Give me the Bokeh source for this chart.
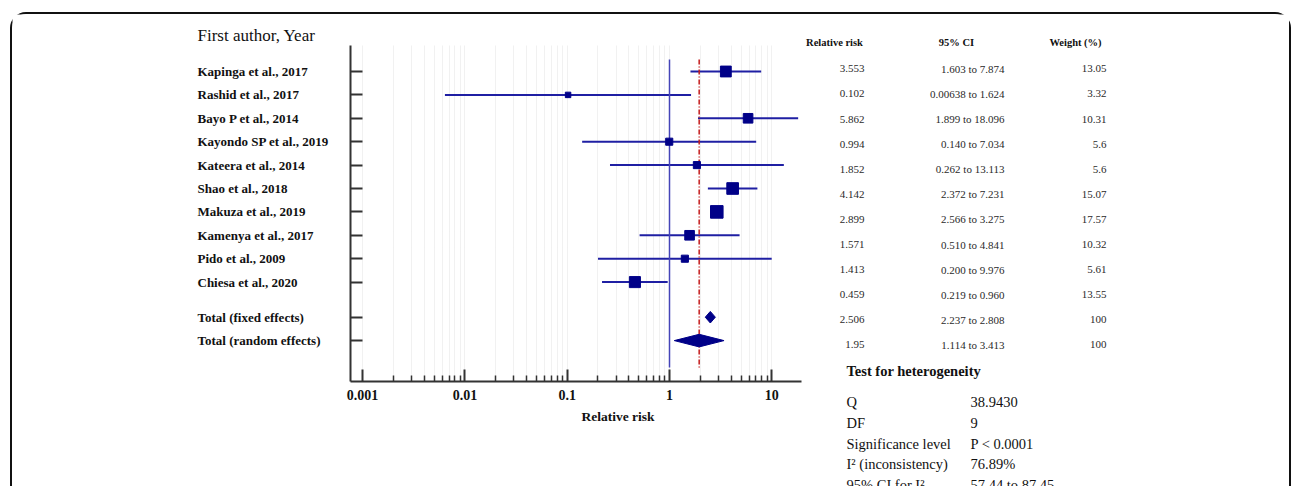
import math
from bokeh.plotting import figure
from bokeh.layouts import row
from bokeh.models import (Range1d, FixedTicker, CustomJSTickFormatter, ColumnDataSource, Title)
from bokeh.embed import file_html
from bokeh.resources import INLINE
from bokeh.core.properties import value

# ---------------- data ----------------
studies = ["Kapinga  et al., 2017", "Rashid et al., 2017", "Bayo P et al., 2014",
           "Kayondo SP et al., 2019", "Kateera et al., 2014", "Shao et al., 2018",
           "Makuza et al., 2019", "Kamenya et al., 2017", "Pido et al., 2009",
           "Chiesa et al., 2020"]
rr_txt = ["3.553", "0.102", "5.862", "0.994", "1.852", "4.142", "2.899", "1.571", "1.413", "0.459"]
lo_txt = ["1.603", "0.00638", "1.899", "0.140", "0.262", "2.372", "2.566", "0.510", "0.200", "0.219"]
hi_txt = ["7.874", "1.624", "18.096", "7.034", "13.113", "7.231", "3.275", "4.841", "9.976", "0.960"]
w_txt = ["13.05", "3.32", "10.31", "5.6", "5.6", "15.07", "17.57", "10.32", "5.61", "13.55"]

pooled_names = ["Total (fixed effects)", "Total (random effects)"]
pooled_rr_txt = ["2.506", "1.95"]
pooled_lo_txt = ["2.237", "1.114"]
pooled_hi_txt = ["2.808", "3.413"]
pooled_w_txt = ["100", "100"]

table_headers = ["Relative risk", "95% CI", "Weight (%)"]

het_title = "Test for heterogeneity"
het_labels = ["Q", "DF", "Significance level", "I\u00b2 (inconsistency)", "95% CI for I\u00b2"]
het_values = ["38.9430", "9", "P < 0.0001", "76.89%", "57.44 to 87.45"]

x_ticks = [0.001, 0.01, 0.1, 1, 10]
null_value = 1.0

# ---------------- layout helpers (page pixels) ----------------
X0, Y0 = 12, 14            # content origin inside the rounded frame
HC = 472                   # content height
DEC = 102.3                # px per decade
X1 = 669.0                 # page x of value 1
ROW_PX = 23.4
ROW0 = 71.0                # page y of first row


def row_at(page_y):
    return (page_y - ROW0) / ROW_PX


FL, FR, FT, FB = 350, 801, 45, 381   # plot frame (page coords)
LEFT_W = 340 - X0
MAIN_X = 340
MAIN_W = 802 - MAIN_X
RIGHT_X = 802
RIGHT_W = 1289 - RIGHT_X

x_start = 10 ** ((FL - X1) / DEC)
x_end = 10 ** ((FR - X1) / DEC)

study_rows = list(range(len(studies)))
pooled_rows = [10.5, 11.5]

serif = "Liberation Serif"
NAVY = "#000088"
LINE_BLUE = "#1f1fa3"
TXT = "#111111"
GRID = "#e2e2e2"


def blank_fig(w, xr, yr):
    f = figure(width=w, height=HC, x_range=xr, y_range=yr, output_backend="svg",
               toolbar_location=None, x_axis_location=None, y_axis_location=None,
               min_border=0, min_border_left=0, min_border_right=0,
               min_border_top=0, min_border_bottom=0)
    f.outline_line_color = None
    f.xgrid.visible = False
    f.ygrid.visible = False
    f.frame_align = False
    return f


# ---------------- main forest plot ----------------
p = figure(width=MAIN_W, height=HC, x_axis_type="log",
           x_range=Range1d(x_start, x_end),
           y_range=Range1d(row_at(FB), row_at(FT)),
           output_backend="svg", toolbar_location=None,
           min_border_left=FL - MAIN_X, min_border_right=MAIN_X + MAIN_W - FR,
           min_border_top=FT - Y0, min_border_bottom=Y0 + HC - FB)
p.outline_line_color = None
p.frame_align = False

minor = [m * 10 ** e for e in range(-3, 2) for m in range(2, 10)]
minor = [v for v in minor if x_start < v < x_end]

xa = p.xaxis[0]
xa.ticker = FixedTicker(ticks=x_ticks, minor_ticks=minor)
xa.formatter = CustomJSTickFormatter(code="return String(tick);")
xa.axis_line_width = 2
xa.axis_line_color = "#333333"
xa.major_tick_in = 12
xa.major_tick_out = 0
xa.minor_tick_in = 6
xa.minor_tick_out = 0
xa.major_tick_line_width = 2
xa.major_tick_line_color = "#333333"
xa.minor_tick_line_width = 1.5
xa.minor_tick_line_color = "#333333"
xa.major_label_text_font = serif
xa.major_label_text_font_style = "bold"
xa.major_label_text_font_size = "14px"
xa.major_label_text_color = TXT
xa.major_label_standoff = 8

ya = p.yaxis[0]
ya.ticker = FixedTicker(ticks=study_rows + pooled_rows)
ya.axis_line_width = 2
ya.axis_line_color = "#333333"
ya.major_tick_in = 12
ya.major_tick_out = 0
ya.major_tick_line_width = 2
ya.major_tick_line_color = "#333333"
ya.minor_tick_line_color = None
ya.major_label_text_font_size = "0px"
ya.major_label_standoff = 0
ya.major_label_overrides = {t: "" for t in study_rows + pooled_rows}

p.ygrid.grid_line_color = None
p.xgrid.ticker = FixedTicker(ticks=x_ticks, minor_ticks=minor)
p.xgrid.grid_line_color = GRID
p.xgrid.grid_line_dash = "1 1"
p.xgrid.grid_line_width = 1
p.xgrid.minor_grid_line_color = GRID
p.xgrid.minor_grid_line_dash = "1 1"
p.xgrid.minor_grid_line_width = 1

rr = [float(v) for v in rr_txt]
lo = [float(v) for v in lo_txt]
hi = [float(v) for v in hi_txt]
wt = [float(v) for v in w_txt]
prr = [float(v) for v in pooled_rr_txt]
plo = [float(v) for v in pooled_lo_txt]
phi = [float(v) for v in pooled_hi_txt]

src = ColumnDataSource(dict(rr=rr, lo=lo, hi=hi, y=study_rows,
                            size=[3.0 * math.sqrt(w) for w in wt]))

p.segment(x0="lo", x1="hi", y0="y", y1="y", source=src, line_color=LINE_BLUE, line_width=2)

line_top = row_at(59)
line_bot = row_at(367)
p.segment(x0=[null_value], x1=[null_value], y0=[line_top], y1=[line_bot],
          line_color="#4444b8", line_width=1.5)
p.segment(x0=[prr[1]], x1=[prr[1]], y0=[line_top], y1=[line_bot],
          line_color="#c41a1a", line_width=1.5, line_dash="5 2 1 2")

p.scatter(x="rr", y="y", size="size", marker="square", source=src,
          fill_color=NAVY, line_color=NAVY)

half_h = [5.8 / ROW_PX, 6.3 / ROW_PX]
xs = [[plo[i], prr[i], phi[i], prr[i]] for i in range(2)]
ys = [[pooled_rows[i], pooled_rows[i] - half_h[i], pooled_rows[i], pooled_rows[i] + half_h[i]]
      for i in range(2)]
p.patches(xs=xs, ys=ys, fill_color=NAVY, line_color=NAVY, line_width=1)

p.add_layout(Title(text="Relative risk", align="left", offset=581 - FL, standoff=9,
                   text_font=serif, text_font_style="bold", text_font_size="13.5px",
                   text_color=TXT), "below")

# ---------------- left: study labels ----------------
left = blank_fig(LEFT_W, Range1d(0, LEFT_W), Range1d(row_at(Y0 + HC), row_at(Y0)))
left.text(x=[197 - X0], y=[row_at(35)], text=["First author, Year"],
          text_font=value(serif), text_font_size="17px", text_color=TXT,
          text_baseline="middle", text_align="left")
lab_src = ColumnDataSource(dict(x=[197 - X0] * (len(studies) + 2),
                                y=study_rows + pooled_rows, t=studies + pooled_names))
left.text(x="x", y="y", text="t", source=lab_src,
          text_font=value(serif), text_font_style="bold", text_font_size="13px",
          text_color=TXT, text_baseline="middle", text_align="left")

# ---------------- right: table + heterogeneity ----------------
right = blank_fig(RIGHT_W, Range1d(0, RIGHT_W), Range1d(HC, 0))


def rx(page_x):
    return page_x - RIGHT_X


def ry(page_y):
    return page_y - Y0


head_x = [834, 956, 1075]
right.text(x=[rx(v) for v in head_x], y=[ry(42)] * 3, text=table_headers,
           text_font=value(serif), text_font_style="bold", text_font_size="10.5px",
           text_color=TXT, text_baseline="middle", text_align="center")

n_tab = len(rr_txt) + len(pooled_rr_txt)
tab_src = ColumnDataSource(dict(
    y=[ry(68.3 + 25.1 * k) for k in range(n_tab)],
    rr=rr_txt + pooled_rr_txt,
    ci=[f"{a} to {b}" for a, b in zip(lo_txt + pooled_lo_txt, hi_txt + pooled_hi_txt)],
    w=w_txt + pooled_w_txt))
for col, cx in (("rr", 864), ("ci", 1004), ("w", 1106)):
    right.text(x=rx(cx), y="y", text=col, source=tab_src,
               text_font=value(serif), text_font_size="11px",
               text_color="#2a2a2a", text_baseline="middle", text_align="right")

right.text(x=[rx(846)], y=[ry(370)], text=[het_title],
           text_font=value(serif), text_font_style="bold", text_font_size="14.5px",
           text_color=TXT, text_baseline="middle", text_align="left")
het_src = ColumnDataSource(dict(y=[ry(401.7 + 20.7 * k) for k in range(len(het_labels))],
                                a=het_labels, b=het_values))
right.text(x=rx(846), y="y", text="a", source=het_src,
           text_font=value(serif), text_font_size="14.5px", text_color=TXT,
           text_baseline="middle", text_align="left")
right.text(x=rx(970), y="y", text="b", source=het_src,
           text_font=value(serif), text_font_size="14.5px", text_color=TXT,
           text_baseline="middle", text_align="left")

layout = row(left, p, right, spacing=0)
layout.styles = {
    "margin-left": f"{X0 - 2}px",
    "margin-top": f"{Y0 - 2}px",
    "border-top": "2px solid #111111",
    "border-left": "2px solid #111111",
    "border-right": "2px solid #111111",
    "border-top-left-radius": "16px",
    "border-top-right-radius": "16px",
}

open("out.html", "w").write(file_html(layout, INLINE))
